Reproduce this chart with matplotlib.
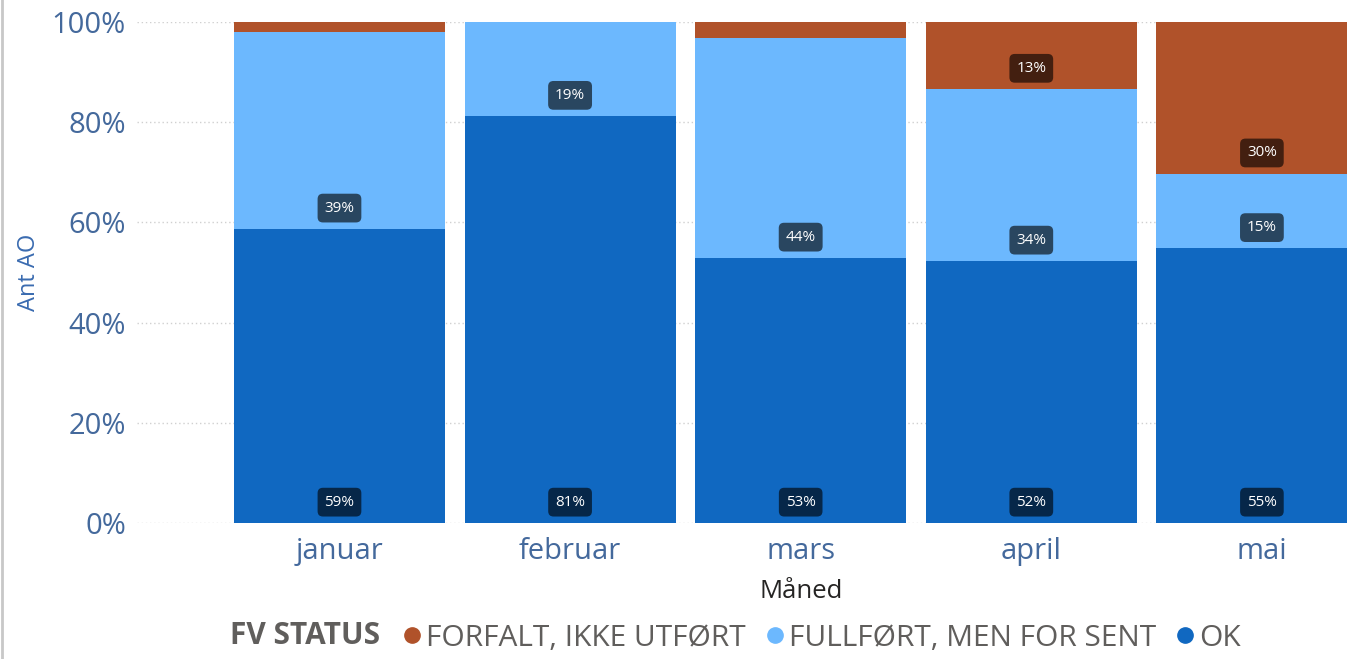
import numpy as np
import matplotlib.pyplot as plt
from matplotlib.lines import Line2D

plt.rcParams['font.family'] = ['Open Sans', 'DejaVu Sans']

maaneder = ['januar', 'februar', 'mars', 'april', 'mai']
ok = [0.587, 0.812, 0.529, 0.523, 0.548]
for_sent = [0.393, 0.188, 0.439, 0.343, 0.149]
forfalt = [0.020, 0.0, 0.032, 0.134, 0.303]

serier = ['OK', 'FULLFØRT, MEN FOR SENT', 'FORFALT, IKKE UTFØRT']
farger = ['#1068C1', '#6CB8FE', '#B0522A']
tekst_farge = '#44699c'

fig = plt.figure(figsize=(13.47, 6.59), dpi=100)
ax = fig.add_axes([0.1017, 0.2064, 0.8983, 0.7602])

x = np.arange(len(maaneder))
bunn = np.zeros(len(maaneder))
for verdier, navn, farge in zip([ok, for_sent, forfalt], serier, farger):
   verdier = np.array(verdier)
   ax.bar(x, verdier, width=0.915, bottom=bunn, color=farge, label=navn, zorder=2)
   for xi, b, v in zip(x, bunn, verdier):
      if v >= 0.05:
         ax.annotate(f'{v:.0%}', (xi, b), xytext=(0, 15), textcoords='offset points',
                     ha='center', va='center', color='white', fontsize=11, zorder=4,
                     bbox=dict(boxstyle='round,pad=0.45,rounding_size=0.35',
                               facecolor='black', alpha=0.62, edgecolor='none'))
   bunn = bunn + verdier

ax.set_xlim(-0.878, 4.369)
ax.set_ylim(0, 1)
ax.set_yticks(np.arange(0, 1.01, 0.2))
ax.set_yticklabels([f'{int(t * 100)}%' for t in np.arange(0, 1.01, 0.2)])
ax.set_xticks(x)
ax.set_xticklabels(maaneder)
ax.tick_params(axis='both', length=0, labelsize=21, labelcolor=tekst_farge)
ax.tick_params(axis='x', pad=10)
ax.tick_params(axis='y', pad=8)
ax.grid(axis='y', color='#d0d0d0', linestyle=(0, (1, 2)), linewidth=1, zorder=0)
ax.set_axisbelow(True)
for s in ax.spines.values():
   s.set_visible(False)

ax.set_ylabel('Ant AO', fontsize=17, color='#3a6bb0', labelpad=8)
ax.set_xlabel('Måned', fontsize=18.5, color='#252423')
# aksetittelen står midt under søylene, ikke midt i aksen
ax.xaxis.set_label_coords(0.549, -0.112)

fig.text(230 / 1347, 1 - 636 / 659, 'FV STATUS', fontsize=21.5, fontweight='bold',
         color='#605e5c', ha='left', va='center')
handles = [Line2D([], [], marker='o', linestyle='none', markersize=11, color=f)
           for f in farger[::-1]]
fig.legend(handles, serier[::-1], loc='center left',
           bbox_to_anchor=(405 / 1347, 1 - 638 / 659), ncol=3, frameon=False,
           fontsize=21.5, labelcolor='#605e5c', handlelength=0.45, handletextpad=0.25,
           columnspacing=0.75, borderaxespad=0, borderpad=0)

fig.add_artist(Line2D([0.0015, 0.0015], [0, 1], color='#c8c8c8', linewidth=2))

fig.savefig('out.png', dpi=100)
